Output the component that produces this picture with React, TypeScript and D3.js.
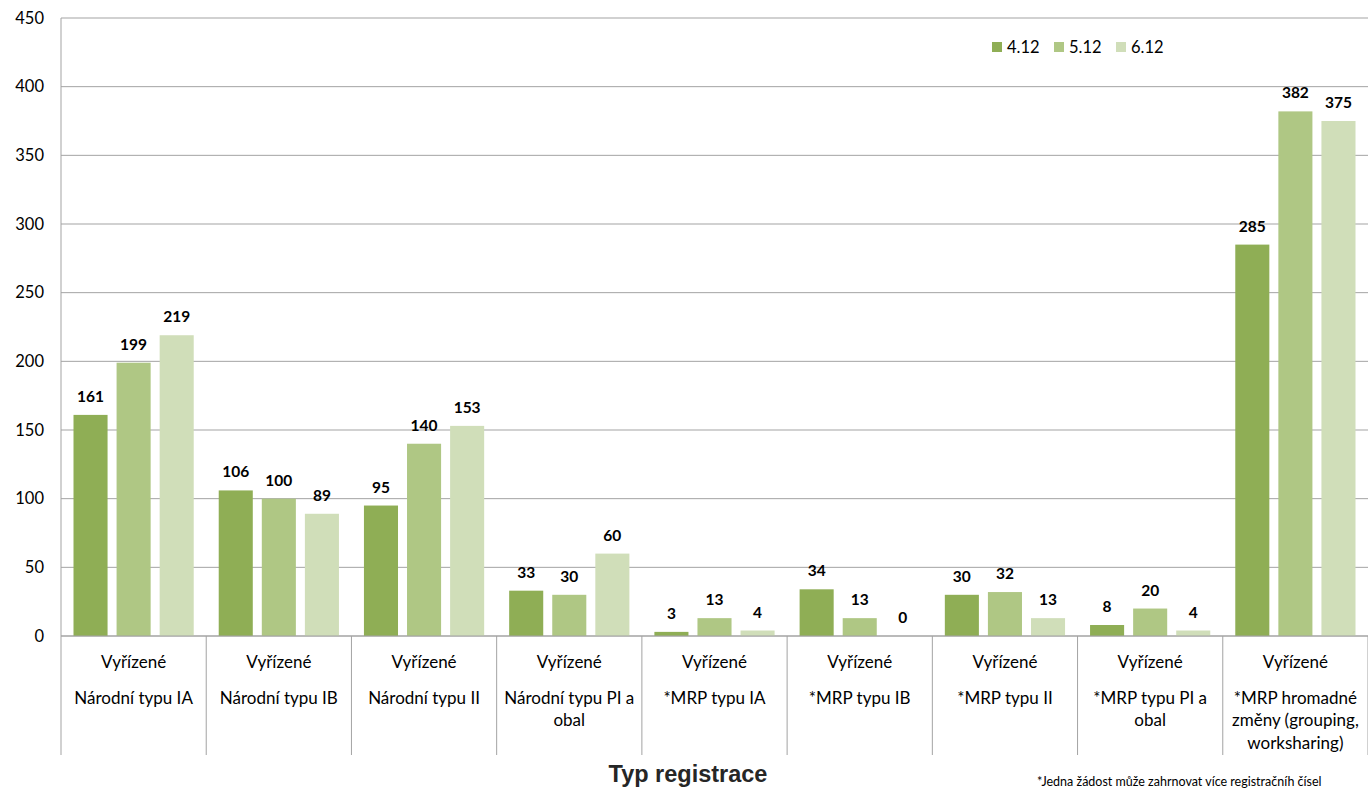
import React from "react";
import * as d3 from "d3";

// Categories (line breaks mark wrapped label lines)
const categories = [
  "Národní typu IA",
  "Národní typu IB",
  "Národní typu II",
  "Národní typu PI a\nobal",
  "*MRP typu IA",
  "*MRP typu IB",
  "*MRP typu II",
  "*MRP typu PI a\nobal",
  "*MRP hromadné\nzměny (grouping,\nworksharing)",
];
const statusLabel = "Vyřízené";

const seriesNames = ["4.12", "5.12", "6.12"];
const values412 = [161, 106, 95, 33, 3, 34, 30, 8, 285];
const values512 = [199, 100, 140, 30, 13, 13, 32, 20, 382];
const values612 = [219, 89, 153, 60, 4, 0, 13, 4, 375];
const seriesColors = ["#8FAE55", "#AFC784", "#D0DEB9"];

const yTicks = [0, 50, 100, 150, 200, 250, 300, 350, 400, 450];

const axisTitle = "Typ registrace";
const footnote = "*Jedna žádost může zahrnovat více registračníh čísel";

const W = 1368;
const H = 790;
const left = 61;
const right = 1368;
const top = 18;
const bottom = 636;
const catBottom = 755;
const gridColor = "#A3A3A3";
const font = "Lato, 'Open Sans', sans-serif";

export default function App() {
  const seriesValues = [values412, values512, values612];
  const x = d3.scaleBand<string>().domain(categories).range([left, right]).padding(0);
  const step = x.bandwidth();
  const xs = d3
    .scaleBand<string>()
    .domain(seriesNames)
    .range([12.5, step - 12.5])
    .paddingInner(9 / 43)
    .paddingOuter(0);
  const y = d3.scaleLinear().domain([0, 450]).range([bottom, top]);

  const legendX = 992;
  const legendGap = 62;

  return (
    <div style={{ position: "fixed", left: 0, top: 0, width: W, height: H, overflow: "hidden" }}>
      <svg width={W} height={H} style={{ display: "block", background: "#fff" }}>
        {/* gridlines */}
        {yTicks.map((t) => (
          <line key={t} x1={left} x2={right} y1={y(t)} y2={y(t)} stroke={gridColor} strokeWidth={1} />
        ))}
        {/* y tick labels */}
        {yTicks.map((t) => (
          <text
            key={"l" + t}
            x={44}
            y={y(t) + 5.5}
            textAnchor="end"
            fontFamily={font}
            fontSize={16.5}
            fill="#000"
          >
            {t}
          </text>
        ))}
        {/* bars */}
        {categories.map((c, ci) =>
          seriesNames.map((s, si) => {
            const v = seriesValues[si][ci];
            const bx = (x(c) as number) + (xs(s) as number);
            return (
              <g key={c + s}>
                <rect
                  x={bx}
                  y={y(v)}
                  width={xs.bandwidth()}
                  height={bottom - y(v)}
                  fill={seriesColors[si]}
                />
                <text
                  x={bx + xs.bandwidth() / 2}
                  y={y(v) - 13}
                  textAnchor="middle"
                  fontFamily={font}
                  fontWeight={700}
                  fontSize={15.5}
                  fill="#000"
                >
                  {v}
                </text>
              </g>
            );
          })
        )}
        {/* axes */}
        <line x1={left} x2={left} y1={top} y2={catBottom} stroke={gridColor} strokeWidth={1} />
        <line x1={left} x2={right} y1={bottom} y2={bottom} stroke={gridColor} strokeWidth={1} />
        {categories.map((c, ci) => (
          <line
            key={"sep" + ci}
            x1={(x(c) as number) + step}
            x2={(x(c) as number) + step}
            y1={bottom}
            y2={catBottom}
            stroke={gridColor}
            strokeWidth={1}
          />
        ))}
        {/* category labels */}
        {categories.map((c) => {
          const cx = (x(c) as number) + step / 2;
          const lines = c.split("\n");
          return (
            <g key={"cl" + c}>
              <text x={cx} y={667.5} textAnchor="middle" fontFamily={font} fontSize={17} fill="#000">
                {statusLabel}
              </text>
              {lines.map((ln, li) => (
                <text
                  key={li}
                  x={cx}
                  y={703.5 + li * 22.5}
                  textAnchor="middle"
                  fontFamily={font}
                  fontSize={17}
                  fill="#000"
                >
                  {ln}
                </text>
              ))}
            </g>
          );
        })}
        {/* legend */}
        {seriesNames.map((s, si) => (
          <g key={"lg" + s} transform={`translate(${legendX + si * legendGap},0)`}>
            <rect x={0} y={42} width={10} height={10} fill={seriesColors[si]} />
            <text x={15} y={53} fontFamily={font} fontSize={16.5} fill="#000">
              {s}
            </text>
          </g>
        ))}
        {/* axis title */}
        <text
          x={688}
          y={782}
          textAnchor="middle"
          fontFamily="'Liberation Sans', Arial, sans-serif"
          fontWeight={700}
          fontSize={23.5}
          fill="#262626"
        >
          {axisTitle}
        </text>
        {/* footnote */}
        <text x={1037} y={786} fontFamily={font} fontSize={12.5} fill="#000">
          {footnote}
        </text>
      </svg>
    </div>
  );
}
